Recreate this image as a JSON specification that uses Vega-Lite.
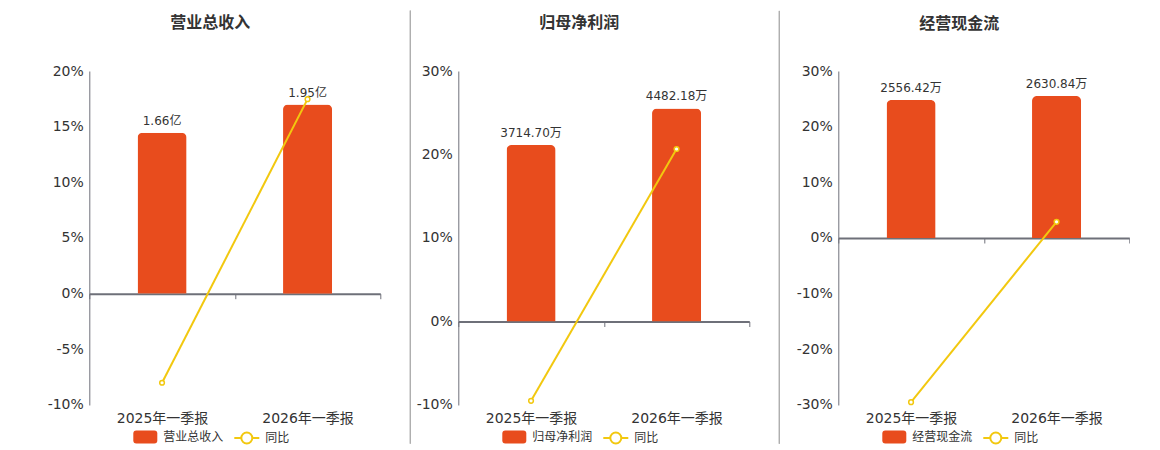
{
  "$schema": "https://vega.github.io/schema/vega-lite/v6.json",
  "padding": {"left": 39.3, "top": 10, "right": 0, "bottom": 0},
  "spacing": 0,
  "background": "white",
  "datasets": {
    "rev": [
      {"period": "2025年一季报", "value": 1.66, "label": "1.66亿", "yoy": -8.0, "bar": "营业总收入", "line": "同比"},
      {"period": "2026年一季报", "value": 1.95, "label": "1.95亿", "yoy": 17.47, "bar": "营业总收入", "line": "同比"}
    ],
    "np": [
      {"period": "2025年一季报", "value": 3714.70, "label": "3714.70万", "yoy": -9.5, "bar": "归母净利润", "line": "同比"},
      {"period": "2026年一季报", "value": 4482.18, "label": "4482.18万", "yoy": 20.66, "bar": "归母净利润", "line": "同比"}
    ],
    "cf": [
      {"period": "2025年一季报", "value": 2556.42, "label": "2556.42万", "yoy": -29.5, "bar": "经营现金流", "line": "同比"},
      {"period": "2026年一季报", "value": 2630.84, "label": "2630.84万", "yoy": 2.91, "bar": "经营现金流", "line": "同比"}
    ]
  },
  "config": {
    "font": "DejaVu Sans, Noto Sans CJK SC",
    "view": {"stroke": null},
    "axis": {"labelColor": "#333333", "labelFont": "DejaVu Sans, Noto Sans CJK SC"},
    "axisY": {"domainColor": "#6E7079", "domainWidth": 1, "ticks": false, "gridColor": "#E0E6F1", "gridWidth": 1, "labelFontSize": 14, "labelPadding": 6, "title": null},
    "axisX": {"domainColor": "#6E7079", "domainWidth": 2, "ticks": true, "tickColor": "#6E7079", "tickSize": 5, "tickWidth": 1, "tickBand": "extent", "grid": false, "labelAngle": 0, "labelFontSize": 14, "title": null},
    "legend": {"labelFontSize": 12, "labelColor": "#333333", "labelFont": "Noto Sans CJK SC", "title": null, "orient": "none"},
    "title": {"fontSize": 16, "fontWeight": "bold", "color": "#333333", "font": "Noto Sans CJK SC", "frame": "group", "anchor": "middle", "dx": -24.5}
  },
  "resolve": {"scale": {"color": "independent", "stroke": "independent"}, "legend": {"color": "independent", "stroke": "independent"}},
  "hconcat": [
    {
      "width": 291, "height": 334,
      "title": {"text": "营业总收入", "offset": -21},
      "data": {"name": "rev"},
      "layer": [
        {
          "layer": [
            {
              "mark": {"type": "bar", "width": {"band": 0.337}, "cornerRadiusTopLeft": 5, "cornerRadiusTopRight": 5},
              "encoding": {
                "x": {"field": "period", "type": "nominal", "scale": {"type": "band", "paddingInner": 0, "paddingOuter": 0}, "axis": {"offset": -111.3, "labelPadding": 113}},
                "y": {"field": "value", "type": "quantitative", "scale": {"domain": [-1.148, 2.296], "nice": false}, "axis": null},
                "color": {"field": "bar", "type": "nominal", "scale": {"range": ["#E84C1D"]}, "legend": {"legendX": 44, "legendY": 354, "symbolType": "M-0.75,-0.54L0.75,-0.54Q1,-0.54 1,-0.29L1,0.29Q1,0.54 0.75,0.54L-0.75,0.54Q-1,0.54 -1,0.29L-1,-0.29Q-1,-0.54 -0.75,-0.54Z", "symbolSize": 576, "symbolStrokeWidth": 0, "labelOffset": 6}}
              }
            },
            {
              "mark": {"type": "text", "baseline": "bottom", "dy": -5, "fontSize": 12, "color": "#333333"},
              "encoding": {
                "x": {"field": "period", "type": "nominal", "scale": {"type": "band", "paddingInner": 0, "paddingOuter": 0}},
                "y": {"field": "value", "type": "quantitative", "scale": {"domain": [-1.148, 2.296], "nice": false}, "axis": null},
                "text": {"field": "label"}
              }
            }
          ]
        },
        {
          "layer": [
            {
              "mark": {"type": "line", "strokeWidth": 2, "point": {"filled": true, "fill": "white", "stroke": "#F2C80F", "strokeWidth": 1.5, "size": 22}},
              "encoding": {
                "x": {"field": "period", "type": "nominal", "scale": {"type": "band", "paddingInner": 0, "paddingOuter": 0}},
                "y": {"field": "yoy", "type": "quantitative", "scale": {"domain": [-10, 20], "nice": false}, "axis": {"orient": "left", "values": [-10, -5, 0, 5, 10, 15, 20], "labelExpr": "datum.value + '%'", "minExtent": 50, "maxExtent": 50}},
                "stroke": {"field": "line", "type": "nominal", "scale": {"range": ["#F2C80F"]}, "legend": {"legendX": 144, "legendY": 353.5, "symbolType": "M-1,0L-0.44,0M0.44,0L1,0M0.44,0A0.44,0.44 0 1,1 -0.44,0A0.44,0.44 0 1,1 0.44,0", "symbolSize": 625, "symbolStrokeWidth": 2, "symbolFillColor": "white", "labelOffset": 5}}
              }
            },
            {
              "mark": {"type": "rule", "color": "#AAAAAA", "strokeWidth": 1},
              "encoding": {
                "x": {"datum": "2026年一季报", "bandPosition": 1.206, "scale": {"type": "band", "paddingInner": 0, "paddingOuter": 0}},
                "y": {"datum": 25.43},
                "y2": {"datum": -13.48}
              }
            }
          ]
        }
      ],
      "resolve": {"scale": {"y": "independent"}}
    },
    {
      "width": 291, "height": 334,
      "title": {"text": "归母净利润", "offset": -21},
      "data": {"name": "np"},
      "layer": [
        {
          "layer": [
            {
              "mark": {"type": "bar", "width": {"band": 0.337}, "cornerRadiusTopLeft": 5, "cornerRadiusTopRight": 5},
              "encoding": {
                "x": {"field": "period", "type": "nominal", "scale": {"type": "band", "paddingInner": 0, "paddingOuter": 0}, "axis": {"offset": -83.5, "labelPadding": 85.2}},
                "y": {"field": "value", "type": "quantitative", "scale": {"domain": [-1757, 5271], "nice": false}, "axis": null},
                "color": {"field": "bar", "type": "nominal", "scale": {"range": ["#E84C1D"]}, "legend": {"legendX": 44, "legendY": 354, "symbolType": "M-0.75,-0.54L0.75,-0.54Q1,-0.54 1,-0.29L1,0.29Q1,0.54 0.75,0.54L-0.75,0.54Q-1,0.54 -1,0.29L-1,-0.29Q-1,-0.54 -0.75,-0.54Z", "symbolSize": 576, "symbolStrokeWidth": 0, "labelOffset": 6}}
              }
            },
            {
              "mark": {"type": "text", "baseline": "bottom", "dy": -5, "fontSize": 12, "color": "#333333"},
              "encoding": {
                "x": {"field": "period", "type": "nominal", "scale": {"type": "band", "paddingInner": 0, "paddingOuter": 0}},
                "y": {"field": "value", "type": "quantitative", "scale": {"domain": [-1757, 5271], "nice": false}, "axis": null},
                "text": {"field": "label"}
              }
            }
          ]
        },
        {
          "layer": [
            {
              "mark": {"type": "line", "strokeWidth": 2, "point": {"filled": true, "fill": "white", "stroke": "#F2C80F", "strokeWidth": 1.5, "size": 22}},
              "encoding": {
                "x": {"field": "period", "type": "nominal", "scale": {"type": "band", "paddingInner": 0, "paddingOuter": 0}},
                "y": {"field": "yoy", "type": "quantitative", "scale": {"domain": [-10, 30], "nice": false}, "axis": {"orient": "left", "values": [-10, 0, 10, 20, 30], "labelExpr": "datum.value + '%'", "minExtent": 46.5, "maxExtent": 46.5}},
                "stroke": {"field": "line", "type": "nominal", "scale": {"range": ["#F2C80F"]}, "legend": {"legendX": 144, "legendY": 353.5, "symbolType": "M-1,0L-0.44,0M0.44,0L1,0M0.44,0A0.44,0.44 0 1,1 -0.44,0A0.44,0.44 0 1,1 0.44,0", "symbolSize": 625, "symbolStrokeWidth": 2, "symbolFillColor": "white", "labelOffset": 5}}
              }
            },
            {
              "mark": {"type": "rule", "color": "#AAAAAA", "strokeWidth": 1},
              "encoding": {
                "x": {"datum": "2026年一季报", "bandPosition": 1.206, "scale": {"type": "band", "paddingInner": 0, "paddingOuter": 0}},
                "y": {"datum": 37.2},
                "y2": {"datum": -14.65}
              }
            }
          ]
        }
      ],
      "resolve": {"scale": {"y": "independent"}}
    },
    {
      "width": 291, "height": 334,
      "title": {"text": "经营现金流", "offset": 32.2},
      "data": {"name": "cf"},
      "layer": [
        {
          "layer": [
            {
              "mark": {"type": "bar", "width": {"band": 0.337}, "cornerRadiusTopLeft": 5, "cornerRadiusTopRight": 5},
              "encoding": {
                "x": {"field": "period", "type": "nominal", "scale": {"type": "band", "paddingInner": 0, "paddingOuter": 0}, "axis": {"offset": -167, "labelPadding": 168.7}},
                "y": {"field": "value", "type": "quantitative", "scale": {"domain": [-3094, 3094], "nice": false}, "axis": null},
                "color": {"field": "bar", "type": "nominal", "scale": {"range": ["#E84C1D"]}, "legend": {"legendX": 44, "legendY": 354, "symbolType": "M-0.75,-0.54L0.75,-0.54Q1,-0.54 1,-0.29L1,0.29Q1,0.54 0.75,0.54L-0.75,0.54Q-1,0.54 -1,0.29L-1,-0.29Q-1,-0.54 -0.75,-0.54Z", "symbolSize": 576, "symbolStrokeWidth": 0, "labelOffset": 6}}
              }
            },
            {
              "mark": {"type": "text", "baseline": "bottom", "dy": -5, "fontSize": 12, "color": "#333333"},
              "encoding": {
                "x": {"field": "period", "type": "nominal", "scale": {"type": "band", "paddingInner": 0, "paddingOuter": 0}},
                "y": {"field": "value", "type": "quantitative", "scale": {"domain": [-3094, 3094], "nice": false}, "axis": null},
                "text": {"field": "label"}
              }
            }
          ]
        },
        {
          "mark": {"type": "line", "strokeWidth": 2, "point": {"filled": true, "fill": "white", "stroke": "#F2C80F", "strokeWidth": 1.5, "size": 22}},
          "encoding": {
            "x": {"field": "period", "type": "nominal", "scale": {"type": "band", "paddingInner": 0, "paddingOuter": 0}},
            "y": {"field": "yoy", "type": "quantitative", "scale": {"domain": [-30, 30], "nice": false}, "axis": {"orient": "left", "values": [-30, -20, -10, 0, 10, 20, 30], "labelExpr": "datum.value + '%'", "minExtent": 57.2, "maxExtent": 57.2}},
            "stroke": {"field": "line", "type": "nominal", "scale": {"range": ["#F2C80F"]}, "legend": {"legendX": 144, "legendY": 353.5, "symbolType": "M-1,0L-0.44,0M0.44,0L1,0M0.44,0A0.44,0.44 0 1,1 -0.44,0A0.44,0.44 0 1,1 0.44,0", "symbolSize": 625, "symbolStrokeWidth": 2, "symbolFillColor": "white", "labelOffset": 5}}
          }
        }
      ],
      "resolve": {"scale": {"y": "independent"}}
    }
  ]
}
